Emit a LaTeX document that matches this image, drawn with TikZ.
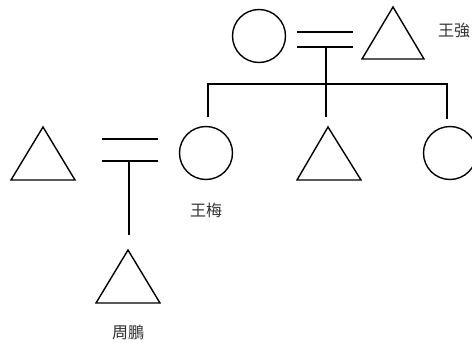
\documentclass[tikz,border=0pt]{standalone}
\usepackage{fontspec}
\newfontfamily\cjk{Noto Sans CJK TC}
\begin{document}
\begin{tikzpicture}[x=1pt,y=-1pt,
  outline/.style={line width=1.4pt},
  kin/.style={line width=2.8pt},
  female/.style={draw,outline,circle,minimum size=53pt,inner sep=0pt},
  lbl/.style={font=\cjk\fontsize{16}{16}\selectfont,text=black!80,inner sep=0pt}]
\useasboundingbox (0,0) rectangle (472,343);
% top couple
\node[female] (gm) at (259,36) {};
\draw[outline] (393,7) coordinate (gfapex) -- (362,59) -- (424,59) -- cycle;
\node[lbl,anchor=west] (gfl) at (438,31) {王強};
\coordinate (m1a) at (297,32); \coordinate (m1b) at (353,32);
\coordinate (m2a) at (297,47); \coordinate (m2b) at (353,47);
\draw[kin] (m1a) -- (m1b);
\draw[kin] (m2a) -- (m2b);
\coordinate (d1) at (326,47);
\coordinate (bar) at (326,84);
\coordinate (barL) at (208,84); \coordinate (barR) at (447,84);
\coordinate (c1) at (208,117); \coordinate (c2) at (326,117); \coordinate (c3) at (447,119);
\draw[kin] (d1) -- (c2);
\draw[kin] (c1) -- (barL) -- (barR) -- (c3);
% children
\node[female] (wm) at (206,153) {};
\node[lbl] (wml) at (206,210) {王梅};
\draw[outline] (328,127) coordinate (sonapex) -- (297,180) -- (361,180) -- cycle;
\node[female] (dau) at (450,153) {};
% left couple
\draw[outline] (43,127) coordinate (husapex) -- (11,180) -- (75,180) -- cycle;
\coordinate (n1a) at (102,139); \coordinate (n1b) at (158,139);
\coordinate (n2a) at (102,161); \coordinate (n2b) at (158,161);
\draw[kin] (n1a) -- (n1b);
\draw[kin] (n2a) -- (n2b);
\coordinate (e1) at (129,161); \coordinate (e2) at (129,235);
\draw[kin] (e1) -- (e2);
% grandchild
\draw[outline] (128,250) coordinate (gcapex) -- (96,303) -- (160,303) -- cycle;
\node[lbl] (gcl) at (128,332) {周鵬};
\end{tikzpicture}
\end{document}
